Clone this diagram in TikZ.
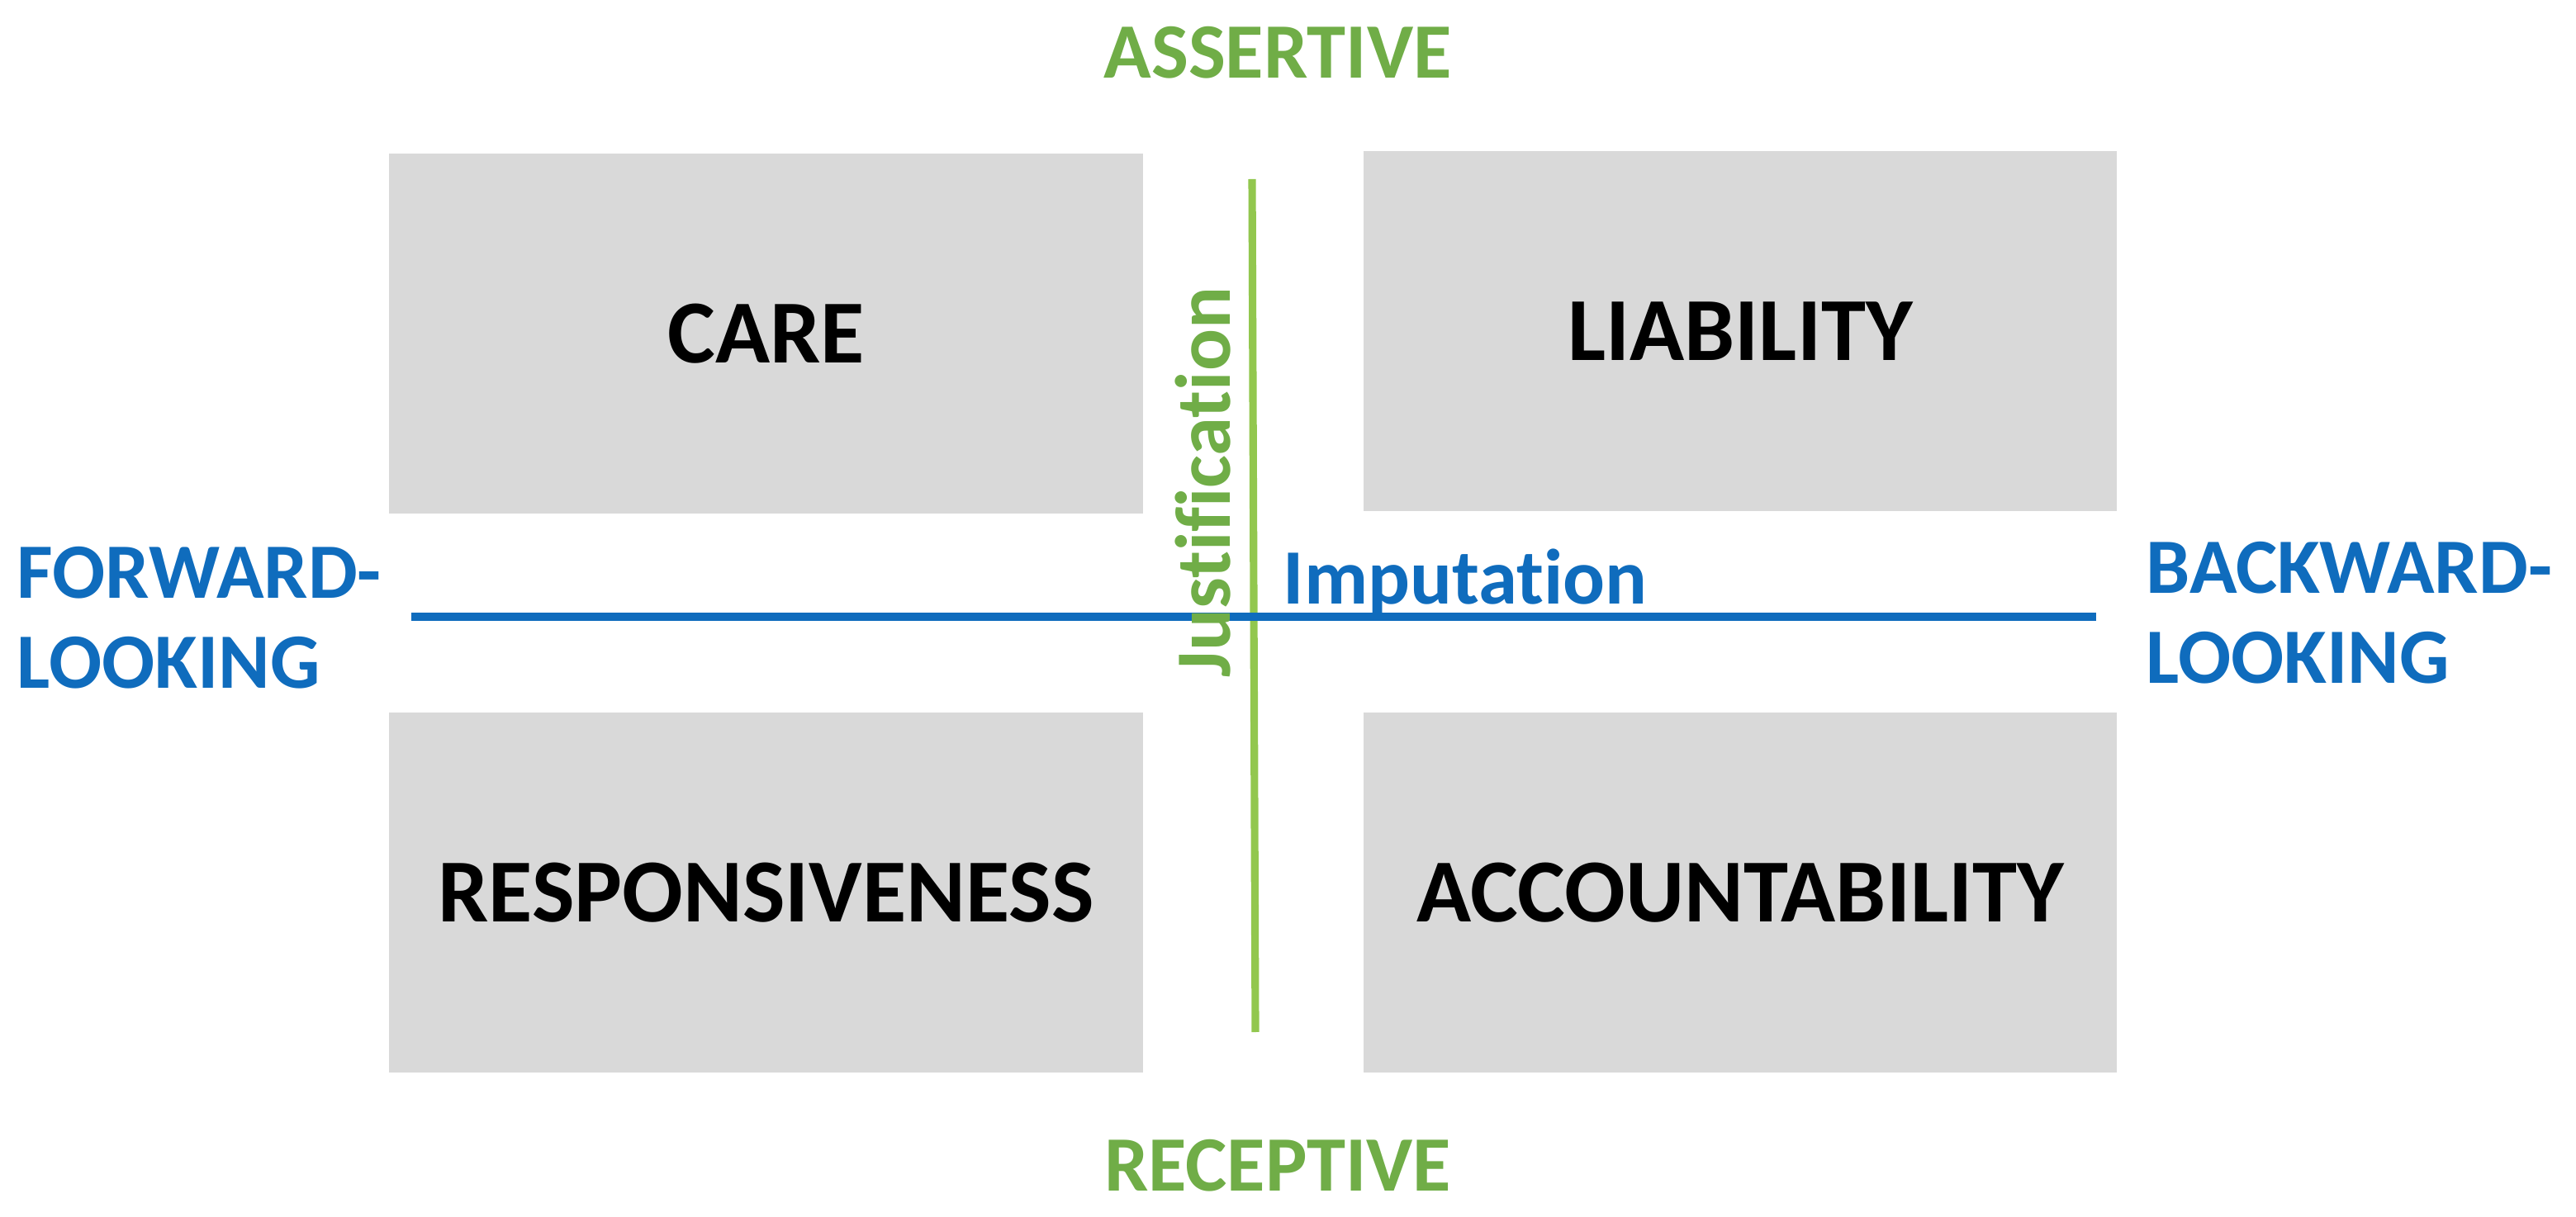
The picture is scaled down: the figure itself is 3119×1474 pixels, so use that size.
\documentclass[tikz,border=0pt]{standalone}
\usepackage{fontspec}
\setmainfont{Carlito}[Ligatures=NoCommon]
\definecolor{boxgray}{HTML}{D9D9D9}
\definecolor{axgreen}{HTML}{70AD47}
\definecolor{linegreen}{HTML}{92C74E}
\definecolor{axblue}{HTML}{0F6CBD}
\tikzset{
  quad/.style={fill=boxgray, draw=none, minimum width=9.12cm, minimum height=4.36cm, inner sep=0pt,
    font=\fontsize{31}{36}\selectfont\bfseries, text=black},
  axlabel/.style={inner sep=0pt, font=\fontsize{27}{31}\selectfont\bfseries},
  greenlab/.style={axlabel, text=axgreen},
  bluelab/.style={axlabel, text=axblue, align=left},
  greenline/.style={draw=linegreen, line width=2.6pt},
  blueline/.style={draw=axblue, line width=2.6pt}
}
\begin{document}
\begin{tikzpicture}[x=0.01cm, y=-0.01cm]
\useasboundingbox (0,0) rectangle (3119,1474);
% quadrant boxes
\node[quad] (care) at (927.5,404) {CARE};
\node[quad] (liab) at (2107,401) {LIABILITY};
\node[quad] (resp) at (927.5,1081) {RESPONSIVENESS};
\node[quad] (acc)  at (2107,1081) {ACCOUNTABILITY};
% axes
\coordinate (jtop) at (1516,217);
\coordinate (jbot) at (1520,1250);
\coordinate (ileft) at (498,747);
\coordinate (iright) at (2538,747);
\draw[greenline] (jtop) -- (jbot);
\draw[blueline] (ileft) -- (iright);
% labels
\node[greenlab, anchor=base] (assertive) at (1547,95) {ASSERTIVE};
\node[greenlab, anchor=base] (receptive) at (1547,1442) {RECEPTIVE};
\node[bluelab, anchor=north west] (fwd) at (20,662) {FORWARD-\\LOOKING};
\node[bluelab, anchor=north west] (bwd) at (2598,656) {BACKWARD-\\LOOKING};
\node[axlabel, text=axblue, anchor=base west] (imput) at (1553,732) {Imputation};
\node[greenlab, rotate=90, anchor=base] (justif) at (1489,584) {Justification};
\end{tikzpicture}
\end{document}
